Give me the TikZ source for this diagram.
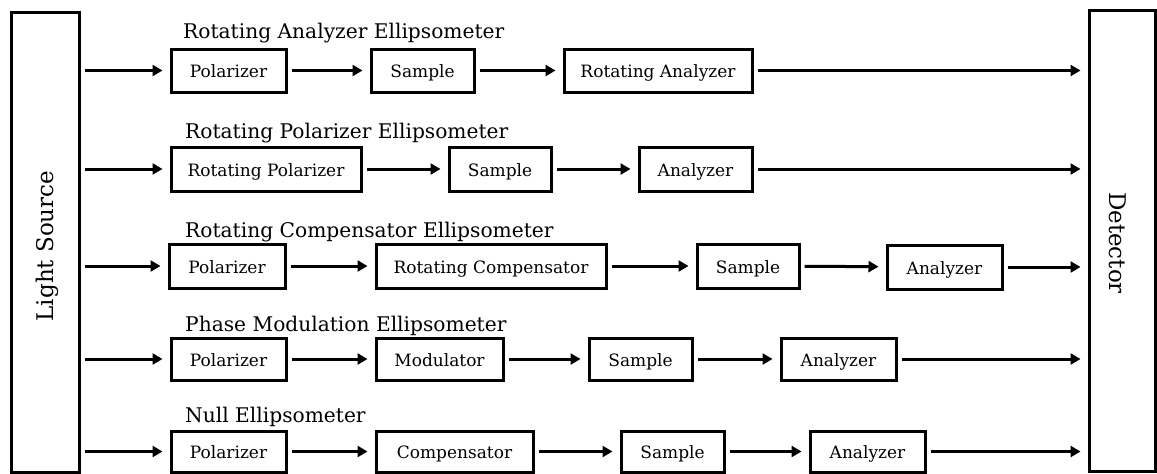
\documentclass[tikz,border=0pt]{standalone}
\usepackage{fontspec}
\setmainfont{DejaVu Serif}
\usetikzlibrary{arrows.meta}
\begin{document}
\begin{tikzpicture}[x=1pt,y=-1pt,
  blk/.style={draw, line width=3pt, inner sep=0pt, text height=14pt, text depth=0pt, font=\fontsize{17}{19}\selectfont},
  ttl/.style={anchor=base west, inner sep=0pt, font=\fontsize{20.2}{22}\selectfont},
  side/.style={draw, line width=3pt, inner sep=0pt},
  sidetxt/.style={inner sep=0pt, font=\fontsize{23}{25}\selectfont},
  arr/.style={line width=3pt, -{Triangle[length=10pt,width=11pt]}, shorten <=4pt, shorten >=7pt}]
\useasboundingbox (0,0) rectangle (1157,474);

% side boxes
\node[side, minimum width=68pt, minimum height=460pt] (ls) at (45,242) {};
\node[sidetxt, rotate=90] (lstxt) at (47,246) {Light Source};
\node[side, minimum width=66pt, minimum height=461pt] (det) at (1122,240.5) {};
\node[sidetxt, rotate=-90] (dettxt) at (1118,243) {Detector};

% titles
\node[ttl] (t1) at (183,38) {Rotating Analyzer Ellipsometer};
\node[ttl] (t2) at (185,138) {Rotating Polarizer Ellipsometer};
\node[ttl] (t3) at (185,237) {Rotating Compensator Ellipsometer};
\node[ttl] (t4) at (185,331) {Phase Modulation Ellipsometer};
\node[ttl] (t5) at (185,422) {Null Ellipsometer};

% row 1
\node[blk, minimum width=115pt, minimum height=43pt] (p1) at (228.5,70.5) {Polarizer};
\node[blk, minimum width=103pt, minimum height=43pt] (s1) at (422.5,70.5) {Sample};
\node[blk, minimum width=188pt, minimum height=43pt] (ra1) at (658,70.5) {Rotating Analyzer};
\draw[arr] (ls.east |- p1.west) -- (p1.west);
\draw[arr] (p1) -- (s1);
\draw[arr] (s1) -- (ra1);
\draw[arr] (ra1.east) -- (ra1.east -| det.west);

% row 2
\node[blk, minimum width=190pt, minimum height=44pt] (rp2) at (266,169) {Rotating Polarizer};
\node[blk, minimum width=102pt, minimum height=44pt] (s2) at (500,169) {Sample};
\node[blk, minimum width=113pt, minimum height=44pt] (a2) at (695.5,169) {Analyzer};
\draw[arr] (ls.east |- rp2.west) -- (rp2.west);
\draw[arr] (rp2) -- (s2);
\draw[arr] (s2) -- (a2);
\draw[arr] (a2.east) -- (a2.east -| det.west);

% row 3
\node[blk, minimum width=116pt, minimum height=44pt] (p3) at (227,266) {Polarizer};
\node[blk, minimum width=230pt, minimum height=44pt] (rc3) at (491,266) {Rotating Compensator};
\node[blk, minimum width=102pt, minimum height=44pt] (s3) at (748,266) {Sample};
\node[blk, minimum width=115pt, minimum height=44pt] (a3) at (944.5,267) {Analyzer};
\draw[arr] (ls.east |- p3.west) -- (p3.west);
\draw[arr] (p3) -- (rc3);
\draw[arr] (rc3) -- (s3);
\draw[arr] (s3) -- (a3);
\draw[arr] (a3.east) -- (a3.east -| det.west);

% row 4
\node[blk, minimum width=115pt, minimum height=42pt] (p4) at (228.5,359) {Polarizer};
\node[blk, minimum width=127pt, minimum height=42pt] (m4) at (439.5,359) {Modulator};
\node[blk, minimum width=103pt, minimum height=42pt] (s4) at (640.5,359) {Sample};
\node[blk, minimum width=115pt, minimum height=42pt] (a4) at (838.5,359) {Analyzer};
\draw[arr] (ls.east |- p4.west) -- (p4.west);
\draw[arr] (p4) -- (m4);
\draw[arr] (m4) -- (s4);
\draw[arr] (s4) -- (a4);
\draw[arr] (a4.east) -- (a4.east -| det.west);

% row 5
\node[blk, minimum width=115pt, minimum height=41pt] (p5) at (228.5,451.5) {Polarizer};
\node[blk, minimum width=157pt, minimum height=41pt] (c5) at (454.5,451.5) {Compensator};
\node[blk, minimum width=103pt, minimum height=41pt] (s5) at (672.5,451.5) {Sample};
\node[blk, minimum width=115pt, minimum height=41pt] (a5) at (867.5,451.5) {Analyzer};
\draw[arr] (ls.east |- p5.west) -- (p5.west);
\draw[arr] (p5) -- (c5);
\draw[arr] (c5) -- (s5);
\draw[arr] (s5) -- (a5);
\draw[arr] (a5.east) -- (a5.east -| det.west);
\end{tikzpicture}
\end{document}
